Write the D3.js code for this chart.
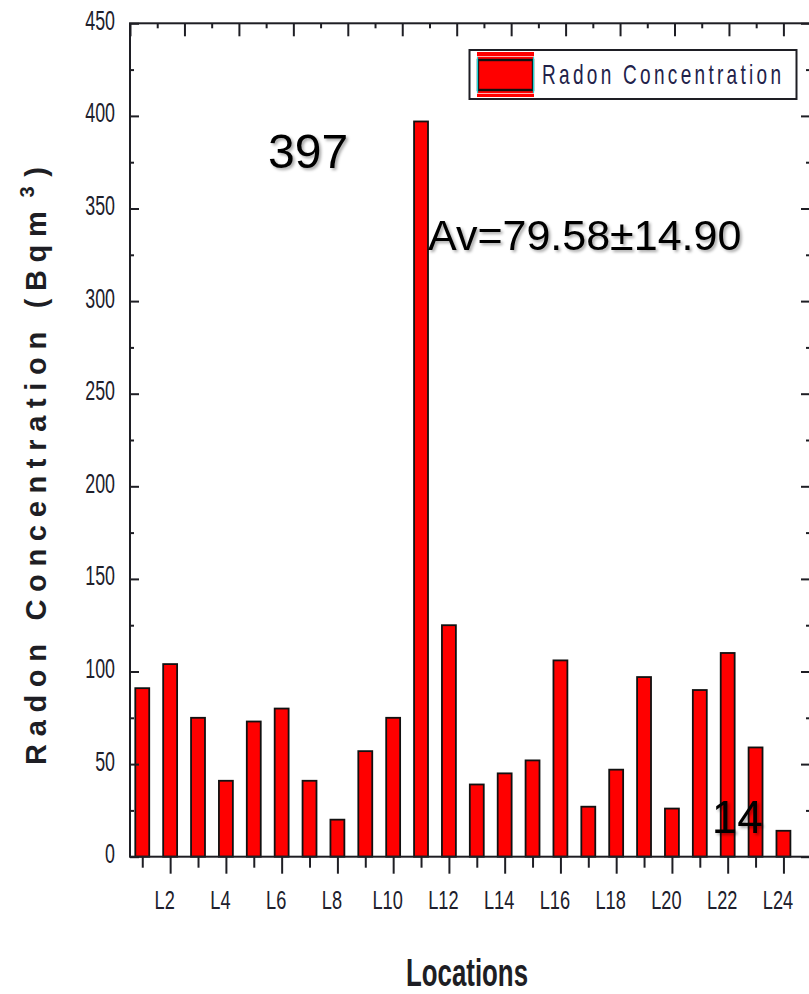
<!DOCTYPE html>
<html>
<head>
<meta charset="utf-8">
<script src="https://cdn.jsdelivr.net/npm/d3@7/dist/d3.min.js"></script>
<style>
  html, body { margin: 0; padding: 0; background: #fff; }
  svg { display: block; }
</style>
</head>
<body>
<svg id="chart" width="809" height="994"></svg>
<script>
// ---- data ----
const locationIndex = d3.range(1, 25);                 // L1 … L24
const radonValues = [91, 104, 75, 41, 73, 80, 41, 20, 57, 75, 397, 125,
                     39, 45, 52, 106, 27, 47, 97, 26, 90, 110, 59, 14];
const yMajorTicks = [0, 50, 100, 150, 200, 250, 300, 350, 400, 450];
const yMinorTicks = [25, 75, 125, 175, 225, 275, 325, 375, 425];
const xMajorTicks = [2, 4, 6, 8, 10, 12, 14, 16, 18, 20, 22, 24];
const xMinorTicks = [1, 3, 5, 7, 9, 11, 13, 15, 17, 19, 21, 23];
const topMajorTicks = [0, 2, 4, 6, 8, 10, 12, 14, 16, 18, 20, 22, 24];
const topMinorTicks = [1, 3, 5, 7, 9, 11, 13, 15, 17, 19, 21, 23];
const seriesName = "Radon Concentration";
const averageLabel = "Av=79.58\u00B114.90";
const xTitle = "Locations";
const yTitle = "Radon Concentration (Bqm";
const yTitleSup = "3";

// ---- layout ----
const plot = { left: 130, right: 810, top: 23.3, bottom: 856.7 };
const FONT = "'Liberation Sans', Arial, sans-serif";
const INK = "#1e1e24";
const LABEL_INK = "#20202c";
const NARROW = 0.7;

const svg = d3.select("#chart");

const x = d3.scaleLinear().domain([0.56, 25]).range([plot.left, plot.left + 24.44 * 27.877]);
const xTop = d3.scaleLinear().domain([0, 24]).range([plot.left, 783.4]);
const y = d3.scaleLinear().domain([0, 450]).range([plot.bottom, plot.top]);

// soft shadow used by the in-plot annotations
const defs = svg.append("defs");
const f = defs.append("filter").attr("id", "txtShadow")
  .attr("x", "-10%").attr("y", "-20%").attr("width", "130%").attr("height", "150%");
f.append("feDropShadow").attr("dx", 2).attr("dy", 2).attr("stdDeviation", 1.6)
  .attr("flood-color", "#000").attr("flood-opacity", 0.35);

// ---- bars ----
const barW = 0.5;
svg.append("g").selectAll("rect")
  .data(radonValues)
  .join("rect")
  .attr("x", (d, i) => x(locationIndex[i] - barW / 2))
  .attr("y", d => y(d))
  .attr("width", x(barW) - x(0))
  .attr("height", d => y(0) - y(d))
  .attr("fill", "#ff0000")
  .attr("stroke", "#111")
  .attr("stroke-width", 1.8);

// ---- axes ----
function styleTicks(g) {
  g.select(".domain").remove();
  g.selectAll(".tick line").attr("stroke", INK).attr("stroke-width", 2);
}

// left: inward ticks with narrow labels
const gLeft = svg.append("g").attr("transform", `translate(${plot.left},0)`)
  .call(d3.axisLeft(y).tickValues(yMajorTicks).tickSize(-9).tickFormat(d3.format("d")))
  .call(styleTicks);
gLeft.selectAll(".tick text")
  .attr("font-family", FONT).attr("font-size", 27).attr("fill", LABEL_INK)
  .attr("text-anchor", "end")
  .attr("transform", `scale(0.66,1)`)
  .attr("x", -15 / 0.66).attr("dy", "0.22em");
svg.append("g").attr("transform", `translate(${plot.left},0)`)
  .call(d3.axisLeft(y).tickValues(yMinorTicks).tickSize(-4).tickFormat(""))
  .call(styleTicks);

// right: inward ticks, no labels
svg.append("g").attr("transform", `translate(${plot.right},0)`)
  .call(d3.axisRight(y).tickValues(yMajorTicks).tickSize(-9).tickFormat(""))
  .call(styleTicks);
svg.append("g").attr("transform", `translate(${plot.right},0)`)
  .call(d3.axisRight(y).tickValues(yMinorTicks).tickSize(-4).tickFormat(""))
  .call(styleTicks);

// bottom: outward ticks, labels on even locations
const gBottom = svg.append("g").attr("transform", `translate(0,${plot.bottom})`)
  .call(d3.axisBottom(x).tickValues(xMajorTicks).tickSize(17).tickFormat(d => "L" + d))
  .call(styleTicks);
gBottom.selectAll(".tick text")
  .attr("font-family", FONT).attr("font-size", 26).attr("fill", LABEL_INK)
  .attr("text-anchor", "middle")
  .attr("transform", `scale(${NARROW},1)`)
  .attr("x", -6 / NARROW).attr("y", 52.5).attr("dy", 0);
svg.append("g").attr("transform", `translate(0,${plot.bottom})`)
  .call(d3.axisBottom(x).tickValues(xMinorTicks).tickSize(11).tickFormat(""))
  .call(styleTicks);

// top: inward ticks, no labels
svg.append("g").attr("transform", `translate(0,${plot.top})`)
  .call(d3.axisTop(xTop).tickValues(topMajorTicks).tickSize(-13).tickFormat(""))
  .call(styleTicks);
svg.append("g").attr("transform", `translate(0,${plot.top})`)
  .call(d3.axisTop(xTop).tickValues(topMinorTicks).tickSize(-5).tickFormat(""))
  .call(styleTicks);

// frame
svg.append("rect")
  .attr("x", plot.left).attr("y", plot.top)
  .attr("width", plot.right - plot.left).attr("height", plot.bottom - plot.top)
  .attr("fill", "none").attr("stroke", INK).attr("stroke-width", 2);

// ---- legend ----
const lg = svg.append("g");
lg.append("rect").attr("x", 469.5).attr("y", 50).attr("width", 327).attr("height", 49)
  .attr("fill", "#fff").attr("stroke", INK).attr("stroke-width", 2);
lg.append("rect").attr("x", 477).attr("y", 52).attr("width", 57).attr("height", 45)
  .attr("fill", "#ff0000");
lg.append("line").attr("x1", 477).attr("x2", 534).attr("y1", 56.5).attr("y2", 56.5)
  .attr("stroke", "#ffb0b0").attr("stroke-width", 1);
lg.append("line").attr("x1", 477).attr("x2", 534).attr("y1", 93.5).attr("y2", 93.5)
  .attr("stroke", "#ffb0b0").attr("stroke-width", 1);
lg.append("rect").attr("x", 478).attr("y", 60).attr("width", 55).attr("height", 30)
  .attr("fill", "#ff0000").attr("stroke", "#111").attr("stroke-width", 2.4);
lg.append("line").attr("x1", 477.5).attr("x2", 477.5).attr("y1", 57).attr("y2", 93)
  .attr("stroke", "#22d6d6").attr("stroke-width", 1.2);
lg.append("line").attr("x1", 533.5).attr("x2", 533.5).attr("y1", 57).attr("y2", 93)
  .attr("stroke", "#22d6d6").attr("stroke-width", 1.2);

// stretch a text's letter-spacing so it spans a given on-screen width
function fitSpacing(textSel, targetWidth, sx) {
  const node = textSel.node();
  const n = node.getNumberOfChars();
  const natural = node.getComputedTextLength();
  const ls = (targetWidth / sx - natural) / Math.max(1, n - 1);
  textSel.attr("letter-spacing", ls);
  return ls;
}

const legendText = lg.append("g").attr("transform", "translate(542,84)")
  .append("text")
  .attr("font-family", FONT).attr("font-size", 28).attr("fill", "#22224a")
  .attr("transform", `scale(0.68,1)`)
  .text(seriesName);
fitSpacing(legendText, 239, 0.68);

// ---- axis titles ----
const yT = svg.append("text")
  .attr("text-anchor", "start")
  .attr("font-family", FONT).attr("font-weight", "bold").attr("font-size", 29)
  .attr("fill", INK);
yT.append("tspan").text(yTitle);
yT.append("tspan").attr("font-size", 20).attr("dy", -12).attr("dx", 6).text(yTitleSup);
yT.append("tspan").attr("dy", 12).attr("dx", 2).text(")");
fitSpacing(yT, 590, 1);
// title runs upward from the bottom of the label column
yT.attr("transform", "translate(46,765) rotate(-90)");

svg.append("g").attr("transform", "translate(467,986)")
  .append("text")
  .attr("text-anchor", "middle")
  .attr("font-family", FONT).attr("font-weight", "bold").attr("font-size", 38)
  .attr("fill", INK)
  .attr("transform", "scale(0.68,1)")
  .text(xTitle);

// ---- annotations ----
const peak = radonValues[10];
const last = radonValues[23];
svg.append("text")
  .attr("x", x(5.51)).attr("y", y(371.7))
  .attr("font-family", FONT).attr("font-size", 48).attr("fill", "#000")
  .attr("filter", "url(#txtShadow)")
  .text(String(peak));
svg.append("text")
  .attr("x", x(11.25)).attr("y", y(327.4))
  .attr("font-family", FONT).attr("font-size", 43).attr("fill", "#000")
  .attr("filter", "url(#txtShadow)")
  .text(averageLabel);
svg.append("text")
  .attr("x", x(21.43)).attr("y", y(12.8))
  .attr("font-family", FONT).attr("font-size", 46).attr("fill", "#000")
  .attr("filter", "url(#txtShadow)")
  .text(String(last));
</script>
</body>
</html>
